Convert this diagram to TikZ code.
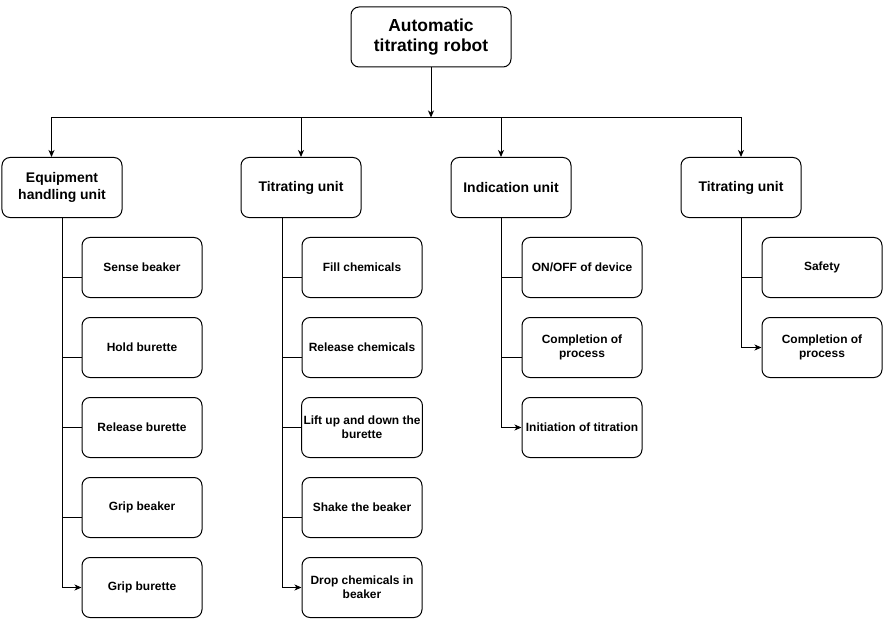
\documentclass[tikz,border=0pt]{standalone}
\usepackage{fontspec}
\setmainfont{Liberation Sans}
\usetikzlibrary{arrows.meta}
\begin{document}
\begin{tikzpicture}[x=1bp,y=-1bp,
  box/.style={draw, line width=1bp, rounded corners=8bp, minimum width=120bp, minimum height=60bp, align=center, inner sep=2bp, font=\bfseries\fontsize{12}{14}\selectfont},
  rootbox/.style={box, minimum width=160bp, font=\bfseries\fontsize{17.5}{21}\selectfont},
  midbox/.style={box, font=\bfseries\fontsize{14}{17}\selectfont},
  conn/.style={line width=1bp},
  arr/.style={conn, -{Stealth[length=7bp,width=6bp,inset=2bp]}}]
\useasboundingbox (0,0) rectangle (883,619);

% root
\node[rootbox] (root) at (431,37) {Automatic\\titrating robot};

% level 1
\node[midbox] (e1) at (62,187.5) {Equipment\\handling unit};
\node[midbox] (e2) at (301,187.5) {Titrating unit};
\node[midbox] (e3) at (511,187.5) {Indication unit};
\node[midbox] (e4) at (741,187.5) {Titrating unit};

% column 1
\node[box] (c11) at (142,267.5) {Sense beaker};
\node[box] (c12) at (142,347.5) {Hold burette};
\node[box] (c13) at (142,427.5) {Release burette};
\node[box] (c14) at (142,507.5) {Grip beaker};
\node[box] (c15) at (142,587.5) {Grip burette};

% column 2
\node[box] (c21) at (362,267.5) {Fill chemicals};
\node[box] (c22) at (362,347.5) {Release chemicals};
\node[box] (c23) at (362,427.5) {Lift up and down the\\burette};
\node[box] (c24) at (362,507.5) {Shake the beaker};
\node[box] (c25) at (362,587.5) {Drop chemicals in\\beaker};

% column 3
\node[box] (c31) at (582,267.5) {ON/OFF of device};
\node[box] (c32) at (582,347.5) {Completion of\\process};
\node[box] (c33) at (582,427.5) {Initiation of titration};

% column 4
\node[box] (c41) at (822,267.5) {Safety};
\node[box] (c42) at (822,347.5) {Completion of\\process};

% top bus
\coordinate (j) at (431,117.5);
\coordinate (h1) at (51.5,117.5);
\coordinate (h2) at (301,117.5);
\coordinate (h3) at (501,117.5);
\coordinate (h4) at (741,117.5);
\draw[arr] (root.south) -- (j);
\draw[conn] (h1) -- (h4);
\draw[arr] (h1) -- (h1 |- e1.north);
\draw[arr] (h2) -- (e2.north);
\draw[arr] (h3) -- (h3 |- e3.north);
\draw[arr] (h4) -- (e4.north);

% trunks
\coordinate (t1) at (e1.south);
\coordinate (t2) at ([xshift=-19bp]e2.south);
\coordinate (t3) at ([xshift=-10bp]e3.south);
\coordinate (t4) at (e4.south);

\draw[arr] (t1) -- (t1 |- c15.west) -- (c15.west);
\draw[arr] (t2) -- (t2 |- c25.west) -- (c25.west);
\draw[arr] (t3) -- (t3 |- c33.west) -- (c33.west);
\draw[arr] (t4) -- (t4 |- c42.west) -- (c42.west);

% branches
\foreach \c/\t in {c11/t1,c12/t1,c14/t1,c21/t2,c22/t2,c24/t2,c31/t3,c32/t3,c41/t4}{
  \coordinate (b) at ([yshift=-9.5bp]\c.west);
  \draw[conn] (b) -- (b -| \t);
}
\foreach \c/\t in {c13/t1,c23/t2}{
  \draw[conn] (\c.west) -- (\c.west -| \t);
}
\end{tikzpicture}
\end{document}
